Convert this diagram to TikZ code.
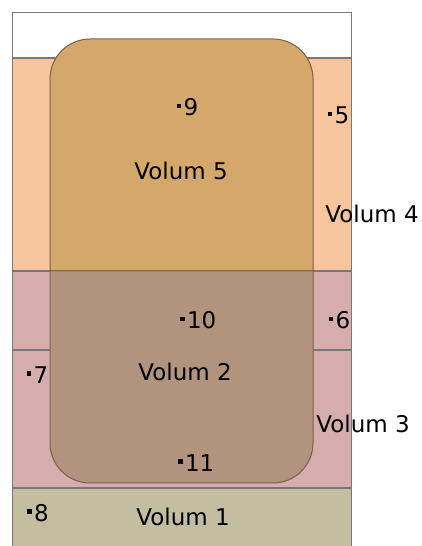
\documentclass[tikz,border=0pt]{standalone}
\usepackage{fontspec}
\setmainfont{DejaVu Sans}
\definecolor{vol4fill}{RGB}{246,196,157}
\definecolor{vol3fill}{RGB}{213,173,173}
\definecolor{vol1fill}{RGB}{195,190,159}
\definecolor{vol5fill}{RGB}{212,168,107}
\definecolor{vol2fill}{RGB}{178,147,126}
\definecolor{framegray}{RGB}{120,120,120}
\definecolor{boxedge}{RGB}{125,95,75}
\usetikzlibrary{positioning}

\begin{document}
\begin{tikzpicture}[
      x=0.5pt, y=0.5pt,
      band/.style   = {draw=framegray, line width=0.6pt},
      volbox/.style = {draw=boxedge, line width=0.5pt},
      dot/.style    = {fill=black, inner sep=0pt, minimum size=2.2pt},
      num/.style    = {inner sep=0pt, font=\fontsize{11.5}{13}\selectfont},
      vol/.style    = {inner sep=0pt, font=\fontsize{11.5}{13}\selectfont},
    ]
    \useasboundingbox (0,0) rectangle (422,546);

    % layers
    \filldraw[band, fill=white]    (12.5,533.5) rectangle (351.5,488);
    \filldraw[band, fill=vol4fill] (12.5,488)   rectangle (351.5,275);
    \filldraw[band, fill=vol3fill] (12.5,275)   rectangle (351.5,58);
    \filldraw[band, fill=vol1fill] (12.5,58)    rectangle (351.5,-10);
    \draw[band] (12.5,196) -- (351.5,196);

    % rounded volumes
    \filldraw[volbox, fill=vol5fill] (50,275) -- (50,467)
      arc[start angle=180, end angle=90, radius=40] -- (273,507)
      arc[start angle=90, end angle=0, radius=40] -- (313,275) -- cycle;
    \filldraw[volbox, fill=vol2fill] (50,275) -- (50,103)
      arc[start angle=180, end angle=270, radius=40] -- (273,63)
      arc[start angle=270, end angle=360, radius=40] -- (313,275) -- cycle;

    % volume labels
    \node[vol] (v5) at (181,375) {Volum 5};
    \node[vol] (v4) at (372,332) {Volum 4};
    \node[vol] (v2) at (185,174) {Volum 2};
    \node[vol] (v3) at (363,122) {Volum 3};
    \node[vol] (v1) at (183,29)  {Volum 1};

    % points
    \node[dot] (d9)  at (179,440)   {};
    \node[dot] (d5)  at (330,432)   {};
    \node[dot] (d10) at (182.5,227) {};
    \node[dot] (d6)  at (331,227)   {};
    \node[dot] (d7)  at (29,172.5)  {};
    \node[dot] (d11) at (180.5,84.5) {};
    \node[dot] (d8)  at (29.5,34.5) {};

    \node[num, right=0.8pt of d9,  yshift=-0.6pt] (n9)  {9};
    \node[num, right=0.8pt of d5,  yshift=-0.6pt] (n5)  {5};
    \node[num, right=0.8pt of d10, yshift=-0.6pt] (n10) {10};
    \node[num, right=0.8pt of d6,  yshift=-0.6pt] (n6)  {6};
    \node[num, right=0.8pt of d7,  yshift=-0.6pt] (n7)  {7};
    \node[num, right=0.8pt of d11, yshift=-0.6pt] (n11) {11};
    \node[num, right=0.8pt of d8,  yshift=-0.6pt] (n8)  {8};
  \end{tikzpicture}
\end{document}
